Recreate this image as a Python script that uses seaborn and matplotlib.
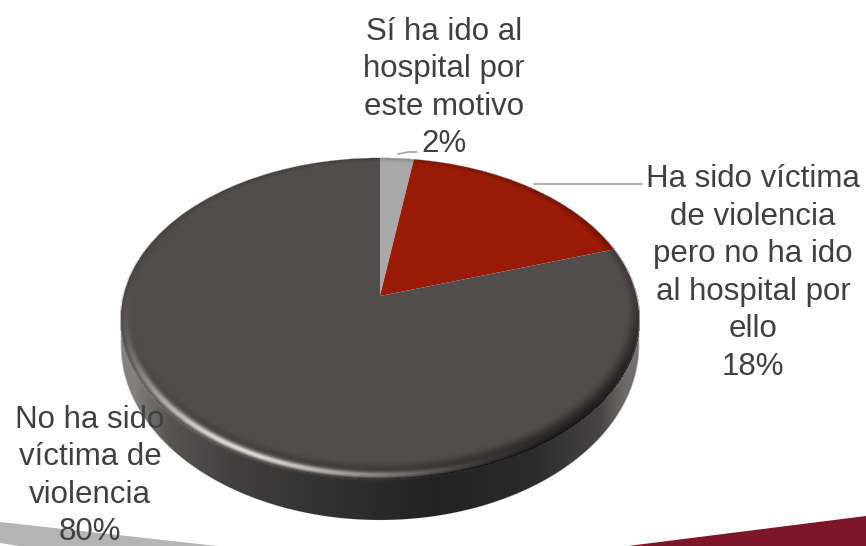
import numpy as np
import matplotlib
matplotlib.use("Agg")
import matplotlib.pyplot as plt
from matplotlib.transforms import Transform
import seaborn as sns

# ---- data ----
categories = ["Sí ha ido al\nhospital por\neste motivo",
              "Ha sido víctima\nde violencia\npero no ha ido\nal hospital por\nello",
              "No ha sido\nvíctima de\nviolencia"]
slice_values = [2.4, 17.6, 80.0]
pct_labels = ["2%", "18%", "80%"]
slice_colors = ["#A9A9A9", "#981A07", "#514D4C"]
text_color = "#404040"

W, H = 866, 546
sns.set_theme(style="white")
plt.rcParams["font.family"] = ["Liberation Sans", "DejaVu Sans"]

# perspective disk -> picture mapping
CX, CY, A, B, K = 380.0, 296.0, 157.0, 256.5, 0.1375
RX, LOW_CY, LOW_RY = 259.0, 345.0, 175.0


class Perspective(Transform):
    input_dims = output_dims = 2
    is_affine = False

    def transform_non_affine(self, values):
        v = np.asarray(values, float)
        d = 1 + K * v[:, 1]
        return np.column_stack([CX + B * v[:, 0] / d, CY - A * v[:, 1] / d])


fig = plt.figure(figsize=(W / 100, H / 100), dpi=100, facecolor="white")
ax = fig.add_axes([0, 0, 1, 1])

wedges, _ = ax.pie(slice_values, colors=sns.color_palette(slice_colors),
                   startangle=90, counterclock=False, radius=1.0,
                   wedgeprops={"linewidth": 0, "edgecolor": "none"})
ax.set_aspect("auto")
ax.set_xlim(0, W)
ax.set_ylim(H, 0)
ax.axis("off")
proj = Perspective() + ax.transData
for w in wedges:
    w.set_transform(proj)
    w.set_zorder(3)
    w.set_clip_on(False)

# ---- shading rasters ----
X, Y = np.meshgrid(np.arange(W) + 0.5, np.arange(H) + 0.5)


def smooth(a, b, v):
    t = np.clip((v - a) / (b - a), 0, 1)
    return t * t * (3 - 2 * t)


dx = (X - CX) / RX
low = np.sqrt(dx ** 2 + (np.maximum(Y - LOW_CY, 0) / LOW_RY) ** 2)
alpha_side = np.where(Y > 310, np.clip((1 - low) * 160 + .5, 0, 1), 0)
stops_x = [121, 135, 170, 233, 333, 433, 533, 600, 625, 639]
stops_v = [.50, .50, .33, .25, .19, .135, .17, .27, .42, .45]
v = np.interp(X, stops_x, stops_v)
side = np.dstack([v * 1.02, v, v * .99, alpha_side])
ax.imshow(np.clip(side, 0, 1), extent=(0, W, H, 0), aspect="auto", zorder=2,
          interpolation="nearest")

up = CY - Y
den = A - K * up
dy_d = up / den
dx_d = (X - CX) / B * A / den
rho = np.hypot(dx_d, dy_d)
phi = np.degrees(np.arctan2(dy_d, dx_d)) % 360
lower = np.clip(-dy_d / np.maximum(rho, 1e-6), 0, 1)
right = np.clip(dx_d / np.maximum(rho, 1e-6), 0, 1)
width = 0.955 - 0.045 * lower
bevel = smooth(width, 1.0, rho) * (0.14 + 0.33 * lower + 0.40 * lower * right + .10 * right)
bevel = np.where(rho <= 1.005, bevel, 0)
glow = np.exp(-((phi - 240) / 36) ** 2) * np.exp(-((rho - 0.985) / 0.016) ** 2) * 0.9
glow = np.where(rho <= 1.03, glow, 0)
a_total = glow + (1 - glow) * bevel
col = np.where(a_total > 0, glow / np.maximum(a_total, 1e-6), 0)
shade = np.dstack([col * .95, col * .94, col * .93, a_total])
ax.imshow(np.clip(shade, 0, 1), extent=(0, W, H, 0), aspect="auto", zorder=4,
          interpolation="nearest")
ax.set_xlim(0, W)
ax.set_ylim(H, 0)

# ---- background streaks ----
ax.fill([0, 217, 20, 0], [522, 546, 546, 543], color="#B4B4B4", lw=0, zorder=1)
ax.fill([866, 866, 628], [516, 546, 546], color="#7F1528", lw=0, zorder=1)

# ---- leader lines ----
ax.plot([398, 408, 417], [154, 152, 152], color="#A6A6A6", lw=1.2, zorder=5)
ax.plot([534, 642], [184, 184], color="#A6A6A6", lw=1.2, zorder=5)

# ---- labels ----
label_pos = [(444, 88), (753, 273), (90, 476)]
for (lx, ly), cat, pct in zip(label_pos, categories, pct_labels):
    ax.text(lx, ly, f"{cat}\n{pct}", ha="center", va="center", color=text_color,
            fontsize=22.5, linespacing=1.33, zorder=6)

fig.savefig("out.png", dpi=100, facecolor="white")
